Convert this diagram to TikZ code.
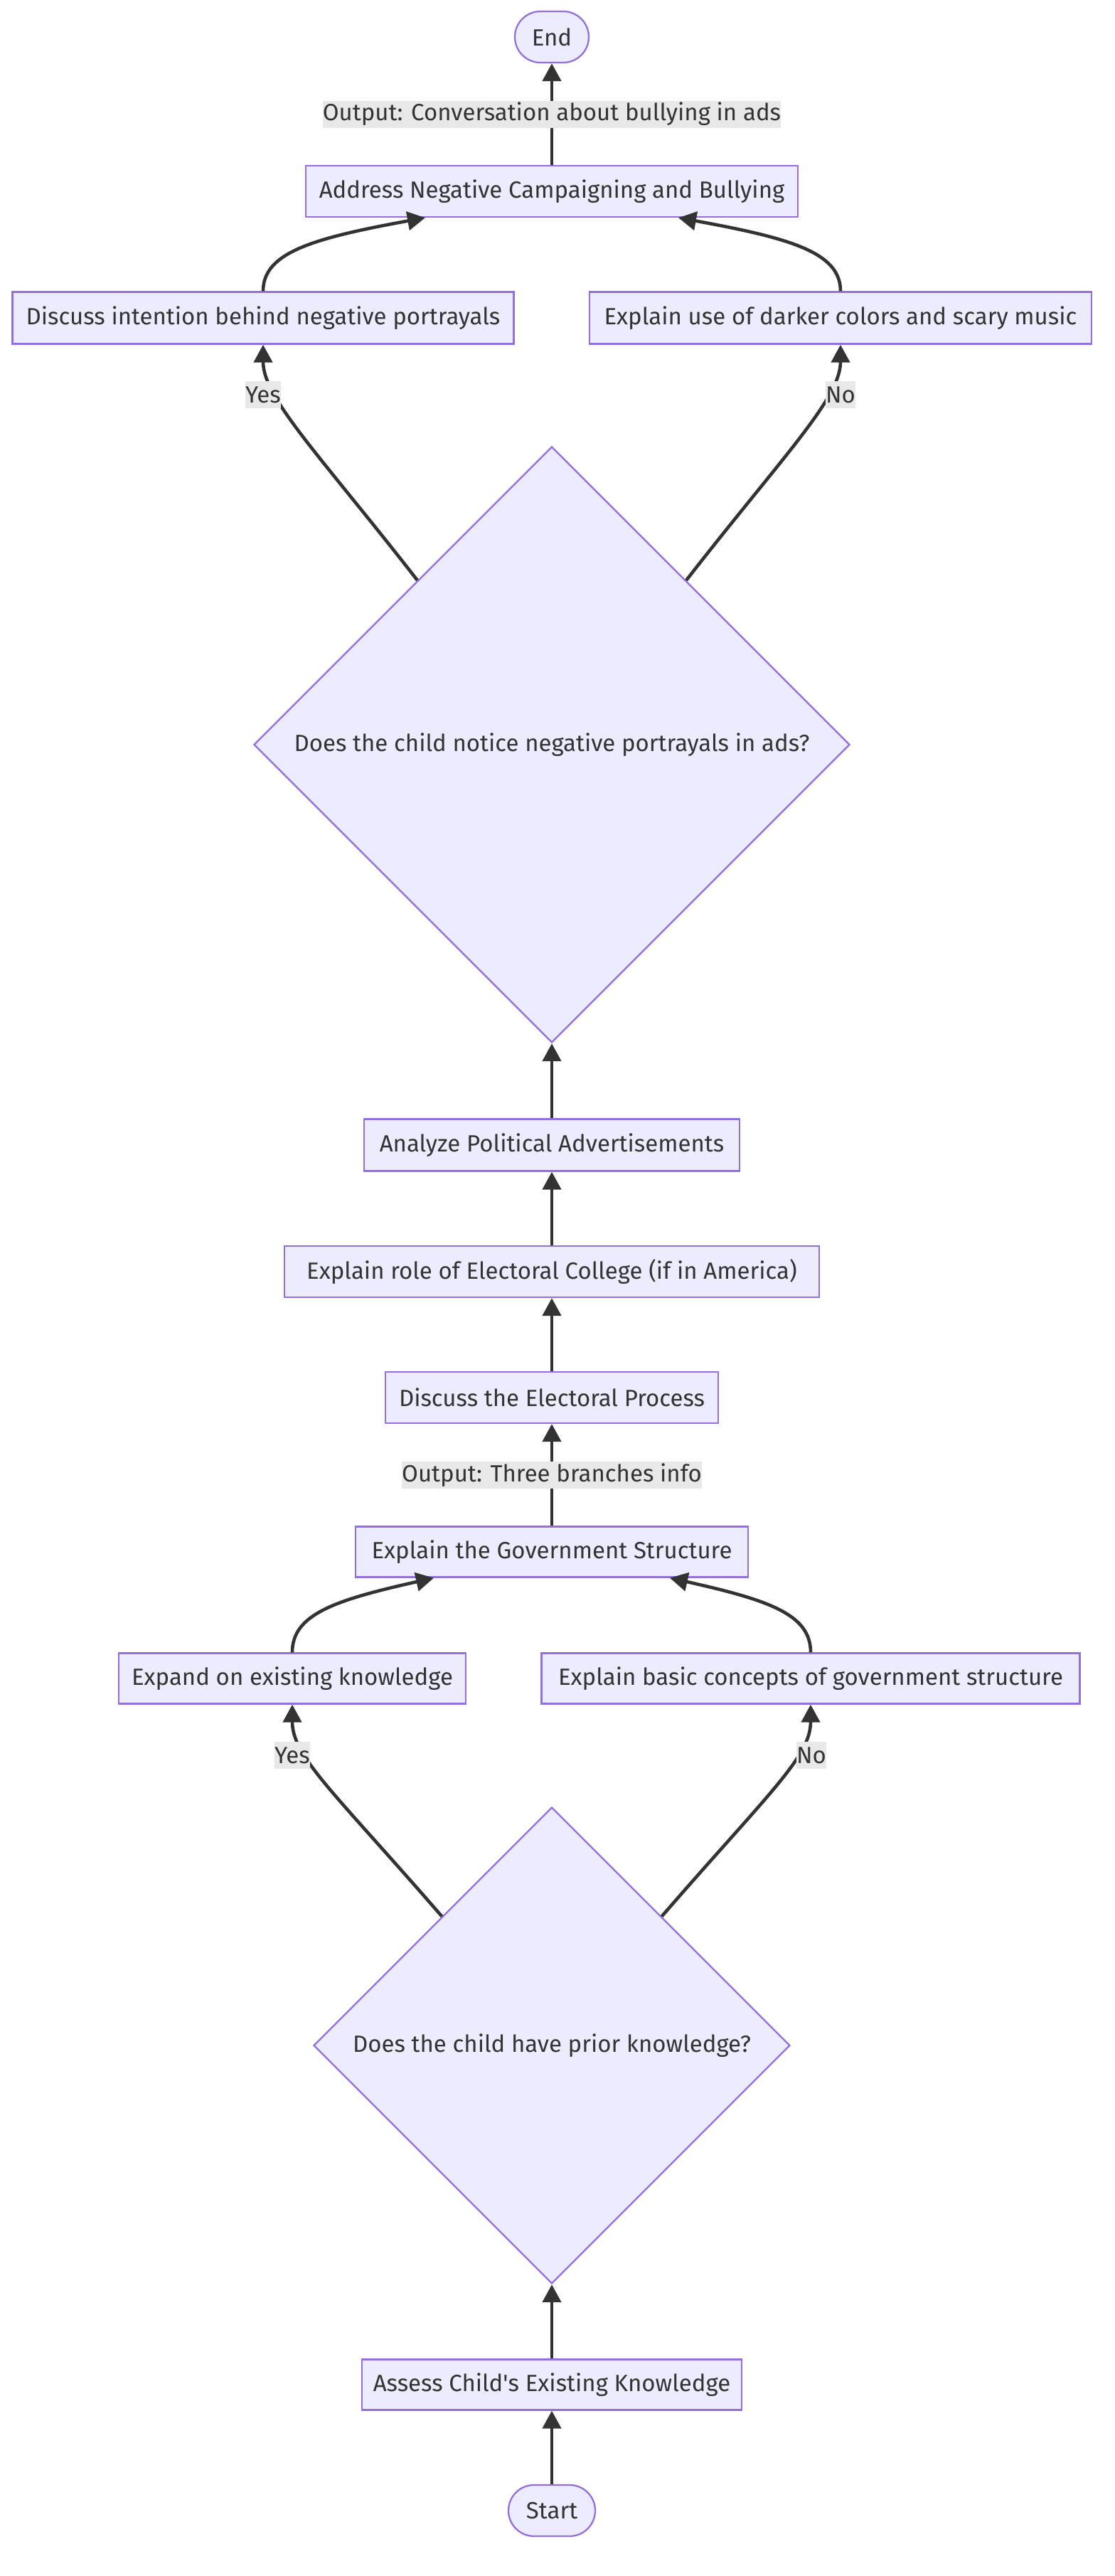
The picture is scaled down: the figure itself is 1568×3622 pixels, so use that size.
\documentclass[tikz,border=0pt]{standalone}
\usepackage{fontspec}
\setmainfont{Fira Sans}
\usetikzlibrary{arrows.meta,shapes.geometric,calc}
\definecolor{nodefill}{HTML}{ECECFF}
\definecolor{nodeline}{HTML}{9370DB}
\definecolor{ink}{HTML}{333333}
\definecolor{lblfill}{HTML}{E8E8E8}

\begin{document}
\begin{tikzpicture}[x=1pt,y=-1pt,
  every node/.style={font=\fontsize{33}{40}\selectfont, text=ink},
  box/.style={draw=nodeline, fill=nodefill, line width=2.3pt, minimum height=72pt, inner sep=0pt},
  term/.style={box, rounded corners=36pt},
  decision/.style={draw=nodeline, fill=nodefill, line width=2.3pt, diamond, aspect=1, inner sep=0pt},
  lbl/.style={fill=lblfill, inner sep=0pt, minimum height=38pt},
  arr/.style={draw=ink, line width=4.6pt, -{Triangle[length=25pt,width=26pt]}}]

\useasboundingbox (0,0) rectangle (1568,3622);

\node[term, minimum width=104pt] (end) at (776,52) {End};
\node[box, minimum width=692pt] (address) at (776,269) {Address Negative Campaigning and Bullying};
\node[box, minimum width=705pt, minimum height=73pt] (intent) at (370,447) {Discuss intention behind negative portrayals};
\node[box, minimum width=706pt, minimum height=73pt] (darker) at (1182,447) {Explain use of darker colors and scary music};
\node[decision, minimum width=838pt, minimum height=838pt] (q1) at (776,1047) {Does the child notice negative portrayals in ads?};
\node[box, minimum width=528pt, minimum height=73pt] (analyze) at (776,1610) {Analyze Political Advertisements};
\node[box, minimum width=752pt] (college) at (776,1788) {Explain role of Electoral College (if in America)};
\node[box, minimum width=468pt] (elect) at (776,1965) {Discuss the Electoral Process};
\node[box, minimum width=552pt, minimum height=71pt] (gov) at (776,2182) {Explain the Government Structure};
\node[box, minimum width=488pt, minimum height=71pt] (expand) at (411,2360) {Expand on existing knowledge};
\node[box, minimum width=757pt, minimum height=71pt] (basic) at (1140,2360) {Explain basic concepts of government structure};
\node[decision, minimum width=670pt, minimum height=670pt] (q2) at (776,2876) {Does the child have prior knowledge?};
\node[box, minimum width=534pt, minimum height=71pt] (assess) at (776,3353) {Assess Child\textquotesingle s Existing Knowledge};
\node[term, minimum width=122pt] (start) at (776,3530) {Start};

\coordinate (q1l) at ($(q1.north)!0.45!(q1.west)$);
\coordinate (q1r) at ($(q1.north)!0.45!(q1.east)$);
\coordinate (q2l) at ($(q2.north)!0.46!(q2.west)$);
\coordinate (q2r) at ($(q2.north)!0.46!(q2.east)$);

\draw[arr] (start) -- (assess);
\draw[arr] (assess) -- (q2);
\draw[arr] (q2l) .. controls (470,2520) and (411,2470) .. (expand);
\draw[arr] (q2r) .. controls (1082,2520) and (1140,2470) .. (basic);
\node[lbl] (yes2) at (411,2468) {Yes};
\node[lbl] (no2) at (1141,2468) {No};
\draw[arr] (expand) .. controls (411,2270) and (470,2250) .. ([xshift=-166pt]gov.south);
\draw[arr] (basic) .. controls (1140,2270) and (1082,2250) .. ([xshift=166pt]gov.south);
\draw[arr] (gov) -- (elect) node[lbl, midway] (out1) {Output: Three branches info};
\draw[arr] (elect) -- (college);
\draw[arr] (college) -- (analyze);
\draw[arr] (analyze) -- (q1);
\draw[arr] (q1l) .. controls (450,640) and (370,560) .. (intent);
\draw[arr] (q1r) .. controls (1102,640) and (1182,560) .. (darker);
\node[lbl] (yes1) at (370,555) {Yes};
\node[lbl] (no1) at (1182,555) {No};
\draw[arr] (intent) .. controls (370,355) and (440,335) .. ([xshift=-178pt]address.south);
\draw[arr] (darker) .. controls (1182,355) and (1112,335) .. ([xshift=178pt]address.south);
\draw[arr] (address) -- (end) node[lbl, midway] (out2) {Output: Conversation about bullying in ads};

\end{tikzpicture}
\end{document}
